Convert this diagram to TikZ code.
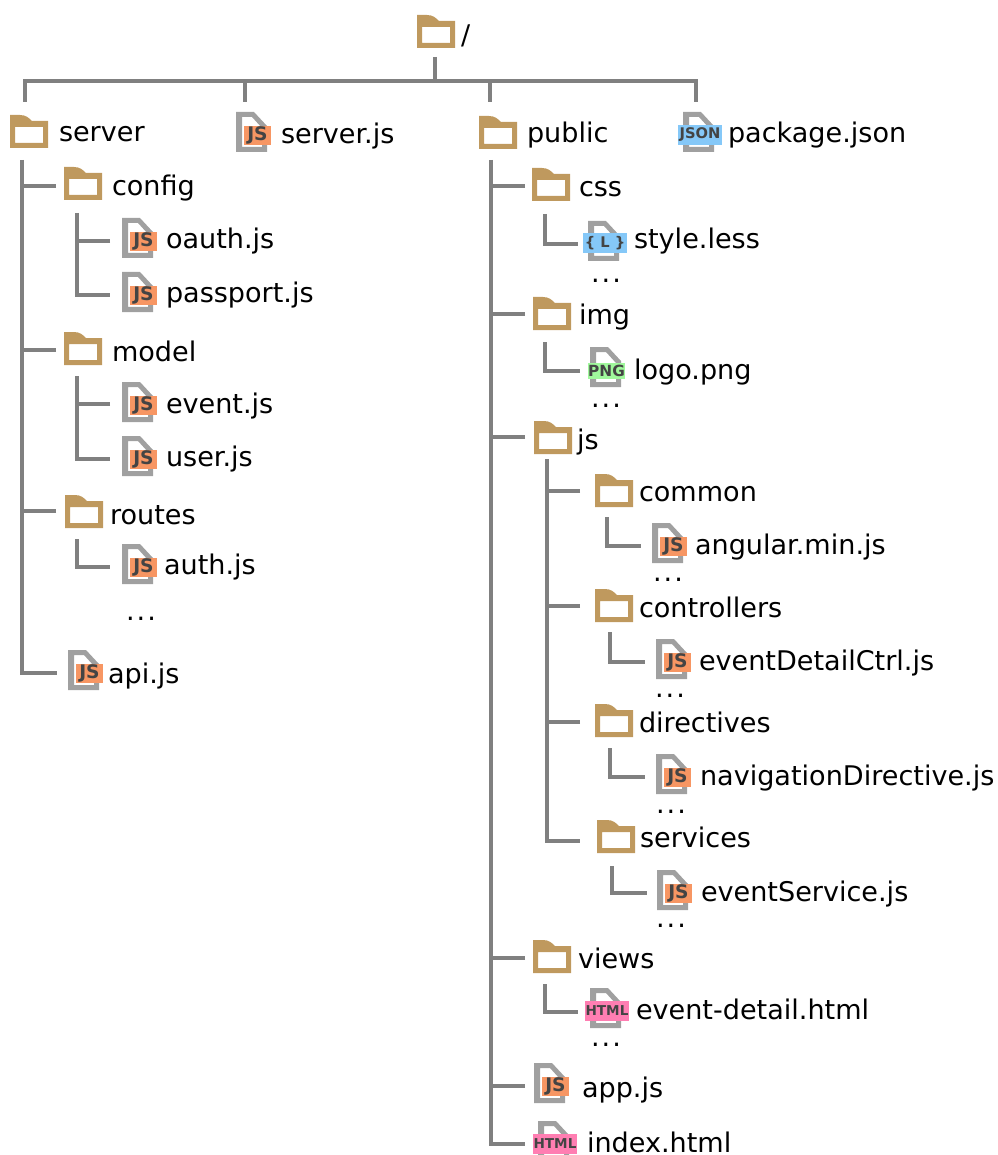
\documentclass[tikz,border=0pt]{standalone}
\usepackage{fontspec}
\setmainfont{DejaVu Sans}
\definecolor{foldertan}{HTML}{BF995E}
\definecolor{filegray}{HTML}{A0A0A0}
\definecolor{connline}{HTML}{808080}
\definecolor{tagink}{HTML}{444444}
\definecolor{tagjs}{HTML}{F79663}
\definecolor{tagblue}{HTML}{85C8F8}
\definecolor{taggreen}{HTML}{A0F89C}
\definecolor{tagpink}{HTML}{FF7EB2}
\tikzset{
  conn/.style={draw=connline,line width=2.4pt},
  hit/.style={inner sep=0pt,outer sep=0pt,minimum height=4pt,anchor=west},
  lab/.style={inner sep=0pt,outer sep=0pt,anchor=base west,text=black,yshift=-0.75pt,font=\fontsize{20.3}{24}\selectfont},
  tag/.style={inner sep=0pt,outer sep=0pt,text=tagink,anchor=center},
  tagJS/.style={tag,fill=tagjs,minimum width=20.25pt,minimum height=14.25pt,xshift=16.1pt,yshift=-17.6pt,font=\fontsize{14}{14}\selectfont\bfseries},
  tagJSON/.style={tag,fill=tagblue,minimum width=33pt,minimum height=15pt,xshift=12.75pt,yshift=-17.25pt,font=\fontsize{11}{11}\selectfont\bfseries},
  tagLESS/.style={tag,fill=tagblue,minimum width=33pt,minimum height=15pt,xshift=12.75pt,yshift=-16.5pt,font=\fontsize{11}{11}\selectfont\bfseries},
  tagPNG/.style={tag,fill=taggreen,minimum width=27.75pt,minimum height=12pt,xshift=12.4pt,yshift=-18pt,font=\fontsize{11.5}{11}\selectfont\bfseries},
  tagHTML/.style={tag,fill=tagpink,minimum width=33pt,minimum height=15pt,xshift=12.75pt,yshift=-17.25pt,font=\fontsize{10.2}{11}\selectfont\bfseries},
  foldericon/.pic={
    \fill[foldertan,even odd rule] (0,0) -- (10,0) .. controls (16,0) and (19,3) .. (22,6) -- (38,6) -- (38,33) -- (0,33) -- cycle
      (5,12) rectangle (33,28);
  },
  fileicon/.pic={
    \fill[filegray,even odd rule] (0,0) -- (18,0) -- (31,14) -- (31,40) -- (0,40) -- cycle
      (6,5) -- (16,5) -- (26,16) -- (26,35) -- (6,35) -- cycle;
  },
}
\newcommand\txtJS{JS}
\newcommand\txtJSON{JSON}
\newcommand\txtLESS{\{ L \}}
\newcommand\txtPNG{PNG}
\newcommand\txtHTML{HTML}
\newcommand\spaceddots{.\kern1.6pt.\kern1.6pt.}
% name, text, icon x, icon y, text x, baseline y, connector end x, connector end y
\newcommand\folderitem[8]{%
  \pic at (#3,#4) {foldericon};
  \node[hit,minimum width={(#3+38-#7)*0.75pt}] (#1) at (#7,#8) {};
  \node[lab] (#1-t) at (#5,#6) {#2};
}
% name, text, kind, icon x, icon y, text x, baseline y, connector end x, connector end y
\newcommand\fileitem[9]{%
  \pic at (#4,#5) {fileicon};
  \node[tag#3] (#1-b) at (#4,#5) {\csname txt#3\endcsname};
  \node[hit,minimum width={(#4+31-#8)*0.75pt}] (#1) at (#8,#9) {};
  \node[lab] (#1-t) at (#6,#7) {#2};
}
\begin{document}
\begin{tikzpicture}[x=0.75pt,y=-0.75pt]
\useasboundingbox (0,0) rectangle (997,1155);
% top level
\folderitem{root}{/}{417}{15}{461}{44}{435}{57}
\folderitem{server}{server}{10}{115}{59}{141}{25}{102}
\fileitem{serverjs}{server.js}{JS}{236}{112}{281}{143}{245}{102}
\folderitem{public}{public}{479}{116}{527}{142}{490}{102}
\fileitem{package}{package.json}{JSON}{683}{112}{728}{142}{696}{102}
\coordinate (bar) at (435,81);
\draw[conn] (root.west) -- (bar);
\draw[conn] (server.west) |- (bar) -| (package.west);
\draw[conn] (serverjs.west) -- (serverjs.west |- bar);
\draw[conn] (public.west) -- (public.west |- bar);
% server subtree
\coordinate (serverT) at (22,160);
\folderitem{config}{config}{64}{167}{112}{195}{56}{186}
\fileitem{oauth}{oauth.js}{JS}{122}{218}{166}{248}{110}{241}
\fileitem{passport}{passport.js}{JS}{122}{272}{166}{302}{110}{295}
\folderitem{model}{model}{64}{332}{112}{360}{56}{350}
\fileitem{event}{event.js}{JS}{122}{382}{166}{412}{110}{404}
\fileitem{user}{user.js}{JS}{122}{436}{166}{465}{110}{459}
\folderitem{routes}{routes}{65}{495}{110}{523}{56}{511}
\fileitem{auth}{auth.js}{JS}{122}{544}{164}{573}{110}{567}
\node[lab] (dotsA) at (126,619) {\spaceddots};
\fileitem{api}{api.js}{JS}{68}{650}{108}{682}{57}{673}
\draw[conn] (serverT) |- (api.west);
\draw[conn] (config.west) -- (config.west -| serverT);
\draw[conn] (model.west) -- (model.west -| serverT);
\draw[conn] (routes.west) -- (routes.west -| serverT);
\coordinate (configT) at (77,213);
\draw[conn] (configT) |- (passport.west);
\draw[conn] (oauth.west) -- (oauth.west -| configT);
\coordinate (modelT) at (77,376);
\draw[conn] (modelT) |- (user.west);
\draw[conn] (event.west) -- (event.west -| modelT);
\coordinate (routesT) at (77,539);
\draw[conn] (routesT) |- (auth.west);
% public subtree
\coordinate (publicT) at (491,160);
\folderitem{css}{css}{532}{168}{579}{196}{525}{186}
\fileitem{style}{style.less}{LESS}{588}{221}{634}{248}{578}{244}
\node[lab] (dotsB) at (591,282) {\spaceddots};
\folderitem{img}{img}{533}{297}{579}{324}{525}{314}
\fileitem{logo}{logo.png}{PNG}{590}{347}{634}{378}{580}{371}
\node[lab] (dotsC) at (591,406) {\spaceddots};
\folderitem{js}{js}{534}{421}{577}{448}{525}{437}
\folderitem{common}{common}{595}{474}{639}{500}{580}{491}
\fileitem{angular}{angular.min.js}{JS}{652}{523}{695}{553}{641}{546}
\node[lab] (dotsD) at (653,580) {\spaceddots};
\folderitem{controllers}{controllers}{595}{589}{639}{616}{580}{606}
\fileitem{detail}{eventDetailCtrl.js}{JS}{656}{639}{699}{669}{645}{662}
\node[lab] (dotsE) at (655,696) {\spaceddots};
\folderitem{directives}{directives}{595}{704}{639}{731}{580}{722}
\fileitem{navigation}{navigationDirective.js}{JS}{656}{754}{700}{784}{645}{777}
\node[lab] (dotsF) at (656,812) {\spaceddots};
\folderitem{services}{services}{597}{820}{640}{846}{580}{841}
\fileitem{eventservice}{eventService.js}{JS}{657}{870}{701}{900}{647}{893}
\node[lab] (dotsG) at (656,926) {\spaceddots};
\folderitem{views}{views}{533}{940}{578}{967}{525}{958}
\fileitem{eventdetail}{event-detail.html}{HTML}{590}{988}{636}{1018}{578}{1012}
\node[lab] (dotsH) at (591,1045) {\spaceddots};
\fileitem{app}{app.js}{JS}{534}{1063}{582}{1096}{525}{1086}
\fileitem{index}{index.html}{HTML}{538}{1121}{587}{1151}{525}{1144}
\draw[conn] (publicT) |- (index.west);
\foreach \n in {css,img,js,views,app}{
  \draw[conn] (\n.west) -- (\n.west -| publicT);
}
\coordinate (cssT) at (545,214);
\draw[conn] (cssT) |- (style.west);
\coordinate (imgT) at (545,342);
\draw[conn] (imgT) |- (logo.west);
\coordinate (jsT) at (547,459);
\draw[conn] (jsT) |- (services.west);
\foreach \n in {common,controllers,directives}{
  \draw[conn] (\n.west) -- (\n.west -| jsT);
}
\coordinate (commonT) at (607,517);
\draw[conn] (commonT) |- (angular.west);
\coordinate (controllersT) at (610,632);
\draw[conn] (controllersT) |- (detail.west);
\coordinate (directivesT) at (610,748);
\draw[conn] (directivesT) |- (navigation.west);
\coordinate (servicesT) at (612,866);
\draw[conn] (servicesT) |- (eventservice.west);
\coordinate (viewsT) at (545,984);
\draw[conn] (viewsT) |- (eventdetail.west);
\end{tikzpicture}
\end{document}
